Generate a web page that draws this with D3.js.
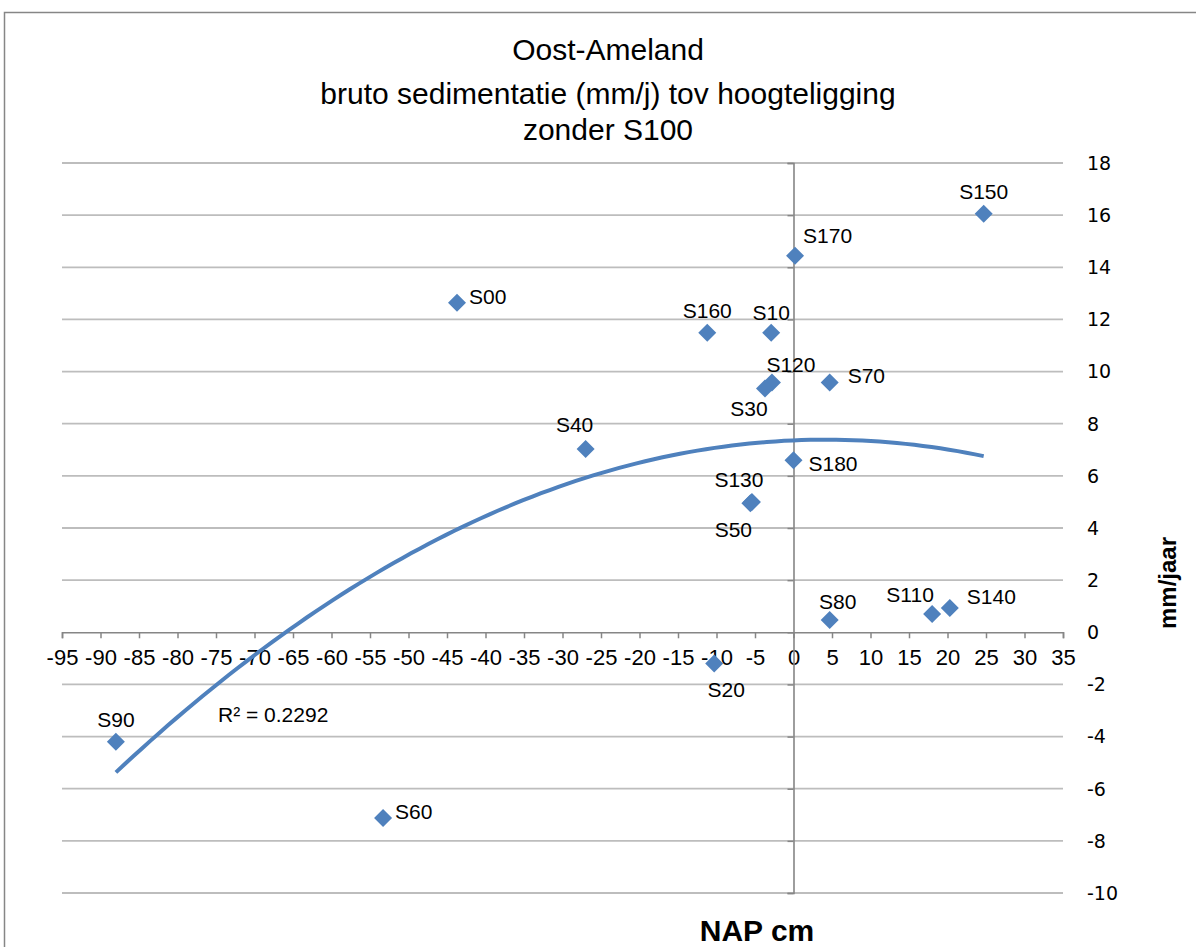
<!DOCTYPE html>
<html><head><meta charset="utf-8">
<script src="https://cdn.jsdelivr.net/npm/d3@7"></script>
<style>
html,body{margin:0;padding:0;background:#fff;}
text{font-family:"Liberation Sans",Arial,sans-serif;fill:#000;}
</style></head>
<body><svg id="chart" width="1196" height="947"></svg>
<script>
// ---- data ----
const names = ["S90","S60","S00","S40","S160","S10","S120","S30","S70","S170","S150","S180","S130","S50","S20","S80","S110","S140"];
const napCm = [-88, -53.3, -43.7, -27, -11.2, -2.9, -2.8, -3.7, 4.7, 0.2, 24.7, 0, -5.4, -5.6, -10.3, 4.7, 18, 20.3];
const mmJaar = [-4.2, -7.12, 12.64, 7.03, 11.49, 11.49, 9.58, 9.35, 9.58, 14.44, 16.05, 6.6, 5.0, 4.95, -1.2, 0.47, 0.7, 0.93];
const xTicks = [-95,-90,-85,-80,-75,-70,-65,-60,-55,-50,-45,-40,-35,-30,-25,-20,-15,-10,-5,0,5,10,15,20,25,30,35];
const yTicks = [-10,-8,-6,-4,-2,0,2,4,6,8,10,12,14,16,18];
const titleLines = ["Oost-Ameland","bruto sedimentatie (mm/j) tov hoogteligging","zonder S100"];
const r2Label = "R² = 0.2292";
// label placement (offsets in px from marker, anchor)
const labelOffsets = {
  S90:[0,-22,"middle"], S60:[12,-6,"start"], S00:[12,-6,"start"], S40:[-11,-24,"middle"],
  S160:[0,-22,"middle"], S10:[0,-20,"middle"], S120:[19,-18,"middle"], S30:[-16,20,"middle"],
  S70:[18,-7,"start"], S170:[8,-20,"start"], S150:[0,-22,"middle"], S180:[15,3,"start"],
  S130:[-13,-22,"middle"], S50:[-17,26,"middle"], S20:[12,26,"middle"], S80:[8,-18,"middle"],
  S110:[-22,-19,"middle"], S140:[17,-11,"start"]
};

const svg = d3.select("#chart");
const x = d3.scaleLinear().domain([-95,35]).range([62,1063]);
const y = d3.scaleLinear().domain([-10,18]).range([893,163]);
const axisCol = "#868686", gridCol = "#bdbdbd", blue = "#4f81bd";

// outer border
svg.append("rect").attr("x",4.5).attr("y",12.5).attr("width",1300).attr("height",1000)
  .attr("fill","none").attr("stroke",axisCol).attr("stroke-width",1.5);

// title
svg.append("g").selectAll("text").data(titleLines).join("text")
  .attr("x",608).attr("y",(d,i)=>[60,104,140][i]).attr("text-anchor","middle")
  .style("font-size","30px").text(d=>d);

// gridlines
svg.append("g").selectAll("line").data(yTicks.filter(v=>v!==0)).join("line")
  .attr("x1",x(-95)).attr("x2",x(35)).attr("y1",d=>y(d)).attr("y2",d=>y(d))
  .attr("stroke",gridCol).attr("stroke-width",1.8);

// x axis at y=0
const xAxis = d3.axisBottom(x).tickValues(xTicks).tickSize(6).tickFormat(d=>String(d));
const gx = svg.append("g").attr("transform",`translate(0,${y(0)})`).call(xAxis);
gx.select(".domain").attr("stroke",axisCol).attr("stroke-width",1.6);
gx.selectAll(".tick line").attr("stroke",axisCol).attr("stroke-width",1.5);
gx.selectAll(".tick text").attr("y",33).attr("dy",0).style("font-size","22px").attr("font-family",null).attr("fill","#000");

// y axis at x=0
const yAxis = d3.axisLeft(y).tickValues(yTicks).tickSize(6).tickFormat("");
const gy = svg.append("g").attr("transform",`translate(${x(0)},0)`).call(yAxis);
gy.select(".domain").attr("stroke",axisCol).attr("stroke-width",1.6);
gy.selectAll(".tick line").attr("stroke",axisCol).attr("stroke-width",1.5);

// y tick labels on right
svg.append("g").selectAll("text").data(yTicks).join("text")
  .attr("x",1087).attr("y",d=>y(d)).attr("dy","0.36em")
  .style("font-family","'DejaVu Sans'").style("font-size","19px").text(d=>String(d));

// axis titles
svg.append("text").attr("transform","translate(1176,583) rotate(-90)").attr("text-anchor","middle")
  .style("font-size","24px").style("font-weight","bold").text("mm/jaar");
svg.append("text").attr("x",757).attr("y",941).attr("text-anchor","middle")
  .style("font-size","30px").style("font-weight","bold").text("NAP cm");

// quadratic least squares trendline
function polyfit2(xs, ys){
  let S=[0,0,0,0,0], T=[0,0,0];
  xs.forEach((xv,i)=>{ for(let k=0;k<5;k++) S[k]+=Math.pow(xv,k); for(let k=0;k<3;k++) T[k]+=ys[i]*Math.pow(xv,k); });
  const A=[[S[0],S[1],S[2],T[0]],[S[1],S[2],S[3],T[1]],[S[2],S[3],S[4],T[2]]];
  for(let i=0;i<3;i++){ for(let j=i+1;j<3;j++){ const f=A[j][i]/A[i][i]; for(let k=i;k<4;k++) A[j][k]-=f*A[i][k]; } }
  const c=[0,0,0];
  for(let i=2;i>=0;i--){ let s=A[i][3]; for(let k=i+1;k<3;k++) s-=A[i][k]*c[k]; c[i]=s/A[i][i]; }
  return c;
}
const coef = polyfit2(napCm, mmJaar);
const xmin = d3.min(napCm), xmax = d3.max(napCm);
const curve = d3.range(0,101).map(i=>{ const xv = xmin+(xmax-xmin)*i/100; return [xv, coef[0]+coef[1]*xv+coef[2]*xv*xv]; });
svg.append("path").datum(curve).attr("fill","none").attr("stroke",blue).attr("stroke-width",4)
  .attr("d", d3.line().x(d=>x(d[0])).y(d=>y(d[1])));

// markers
const pts = names.map((n,i)=>({n, xv:napCm[i], yv:mmJaar[i]}));
svg.append("g").selectAll("path").data(pts).join("path")
  .attr("transform",d=>`translate(${x(d.xv)},${y(d.yv)})`)
  .attr("d","M0,-9L9,0L0,9L-9,0Z").attr("fill",blue);

// data labels
svg.append("g").selectAll("text").data(pts).join("text")
  .attr("x",d=>x(d.xv)+labelOffsets[d.n][0]).attr("y",d=>y(d.yv)+labelOffsets[d.n][1])
  .attr("dy","0.35em").attr("text-anchor",d=>labelOffsets[d.n][2])
  .style("font-size","21px").text(d=>d.n);

// R² label
svg.append("text").attr("x",218).attr("y",722).style("font-size","21px").text(r2Label);
</script></body></html>
